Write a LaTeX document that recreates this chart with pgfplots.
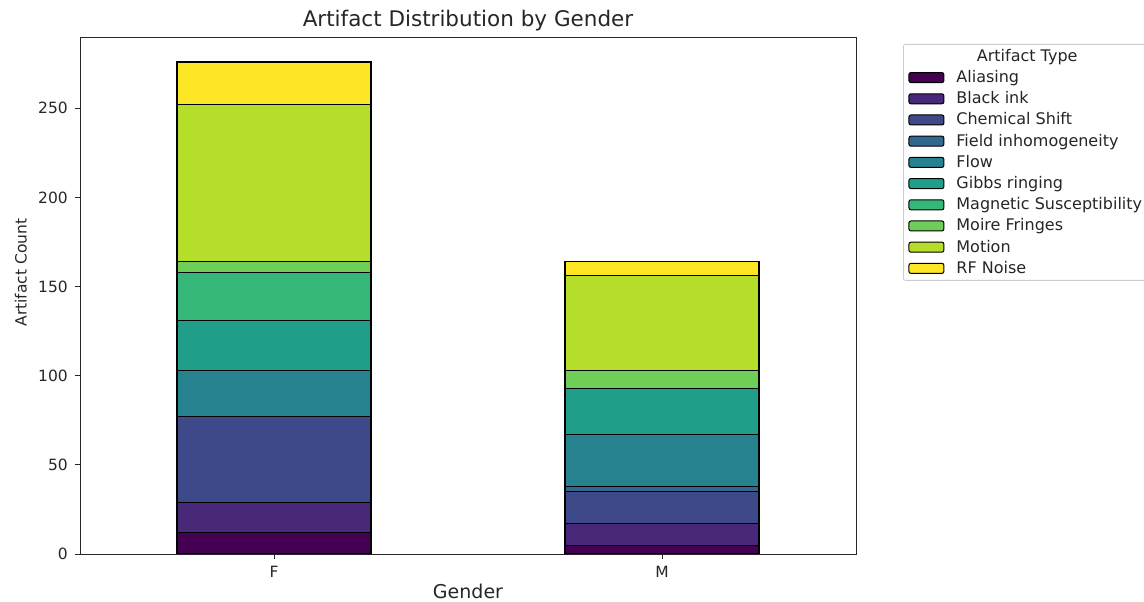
\documentclass[border=0pt]{standalone}
\usepackage{pgfplots}
\pgfplotsset{compat=1.18}
\usepackage{fontspec}
\setmainfont{DejaVu Sans}
\definecolor{c0}{RGB}{68,1,84}
\definecolor{c1}{RGB}{72,40,120}
\definecolor{c2}{RGB}{62,73,137}
\definecolor{c3}{RGB}{49,104,142}
\definecolor{c4}{RGB}{38,130,142}
\definecolor{c5}{RGB}{31,158,137}
\definecolor{c6}{RGB}{53,183,121}
\definecolor{c7}{RGB}{110,206,88}
\definecolor{c8}{RGB}{181,222,43}
\definecolor{c9}{RGB}{253,231,37}
\begin{document}
\begin{tikzpicture}
\useasboundingbox (-80pt,-48pt) rectangle (1064pt,554pt);
\clip (-80pt,-48pt) rectangle (1064pt,554pt);
\begin{axis}[
  at={(0pt,0pt)}, anchor=south west,
  scale only axis, width=776pt, height=517pt,
  ybar stacked, bar width=0.5,
  xmin=-0.5, xmax=1.5, ymin=0, ymax=290,
  xtick={0,1}, xticklabels={F,M},
  ytick={0,50,100,150,200,250},
  axis line style={black!85, line width=0.9pt},
  tick style={black!85, line width=0.9pt},
  major tick length=5pt, tick align=outside,
  xtick pos=left, ytick pos=left,
  /pgf/number format/assume math mode=true,
  ticklabel style={font=\fontsize{15.5}{18}\selectfont, text=black!85},
  yticklabel style={anchor=east, inner sep=0pt, xshift=-7pt},
  xticklabel style={anchor=base, inner sep=0pt, yshift=-19pt},
  title={Artifact Distribution by Gender},
  title style={font=\fontsize{21.5}{26}\selectfont, at={(axis description cs:0.5,1)}, anchor=base, yshift=4pt, text=black!85},
  xlabel={Gender},
  xlabel style={font=\fontsize{19}{22}\selectfont, at={(axis description cs:0.5,0)}, anchor=base, yshift=-45pt, text=black!85},
  ylabel={Artifact Count},
  ylabel style={font=\fontsize{15.5}{18}\selectfont, at={(axis description cs:-0.0687,0.5445)}, anchor=base, text=black!85},
  every axis plot/.append style={draw=black, line width=1.1pt},
  legend image code/.code={\draw[#1, line width=1pt] (0pt,-5pt) rectangle (35pt,5pt);},
  legend cell align=left,
  legend style={at={(axis description cs:1.0606,0.9865)}, anchor=north west,
    draw=black!20, line width=0.8pt, rounded corners=2pt,
    font=\fontsize{16}{19}\selectfont, text=black!85,
    inner xsep=5pt, inner ysep=3pt, row sep=3.2pt, column sep=6pt,
    nodes={text height=12pt, text depth=2pt, inner ysep=2pt, inner xsep=6pt}},
]
\addlegendimage{empty legend}
\addlegendentry{\hspace*{20.5pt}Artifact Type}
\addplot[fill=c0] coordinates {(0,12) (1,5)};
\addlegendentry{Aliasing}
\addplot[fill=c1] coordinates {(0,17) (1,12)};
\addlegendentry{Black ink}
\addplot[fill=c2] coordinates {(0,48) (1,18)};
\addlegendentry{Chemical Shift}
\addplot[fill=c3] coordinates {(0,0) (1,3)};
\addlegendentry{Field inhomogeneity}
\addplot[fill=c4] coordinates {(0,26) (1,29)};
\addlegendentry{Flow}
\addplot[fill=c5] coordinates {(0,28) (1,26)};
\addlegendentry{Gibbs ringing}
\addplot[fill=c6] coordinates {(0,27) (1,0)};
\addlegendentry{Magnetic Susceptibility}
\addplot[fill=c7] coordinates {(0,6) (1,10)};
\addlegendentry{Moire Fringes}
\addplot[fill=c8] coordinates {(0,88) (1,53)};
\addlegendentry{Motion}
\addplot[fill=c9] coordinates {(0,24) (1,8)};
\addlegendentry{RF Noise}
\end{axis}
\end{tikzpicture}
\end{document}
